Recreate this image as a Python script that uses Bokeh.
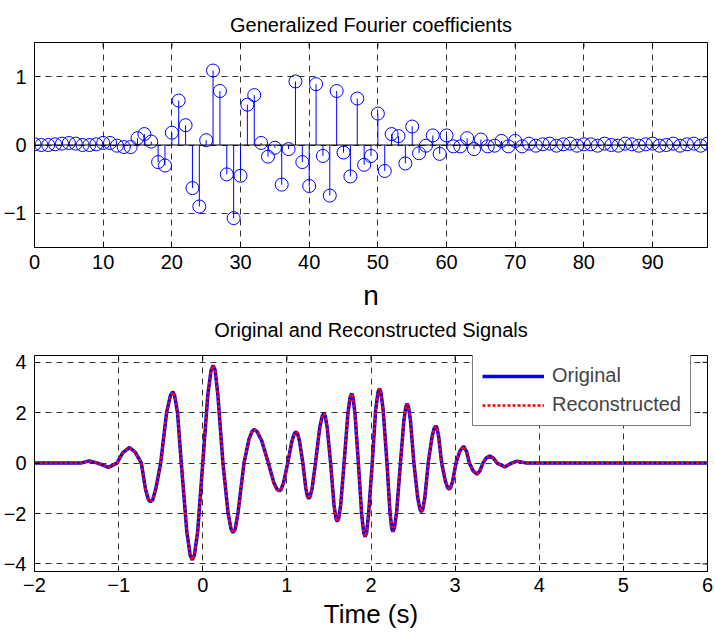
import math
from bokeh.plotting import figure
from bokeh.layouts import column
from bokeh.models import (Range1d, FixedTicker, Legend, LegendItem,
                          ColumnDataSource, Span, Title)
from bokeh.embed import file_html
from bokeh.resources import INLINE

# ---------------- data ----------------
n_index = list(range(99))
coefficients = [
    0.01, 0.00, 0.00, 0.01, 0.02, 0.03, 0.02, 0.00, 0.00, 0.01,
    0.03, 0.03, -0.01, -0.03, -0.03, 0.10, 0.16, 0.05, -0.25, -0.30,
    0.18, 0.65, 0.29, -0.63, -0.90, 0.07, 1.09, 0.79, -0.43, -1.07,
    -0.45, 0.59, 0.73, 0.03, -0.17, -0.04, -0.58, -0.06, 0.93, -0.25,
    -0.60, 0.89, -0.16, -0.74, 0.79, -0.11, -0.46, 0.68, -0.29, -0.16,
    0.46, -0.38, 0.16, 0.13, -0.27, 0.27, -0.12, -0.01, 0.14, -0.13,
    0.14, -0.02, -0.02, 0.10, -0.06, 0.08, -0.02, -0.01, 0.06, -0.02,
    0.06, -0.02, 0.02, -0.01, 0.01, 0.02, -0.01, 0.01, 0.02, -0.01,
    0.01, 0.01, -0.01, 0.02, 0.00, -0.01, 0.02, 0.01, -0.01, 0.01,
    0.02, -0.01, 0.00, 0.02, -0.01, 0.01, 0.02, -0.01, 0.02,
]

time_s = [
    -2.0, -1.6, -1.45, -1.35, -1.25, -1.12, -1.02, -0.95, -0.87, -0.80,
    -0.73, -0.68, -0.645, -0.62, -0.595, -0.56, -0.50, -0.43, -0.384, -0.355, -0.335, -0.30, -0.255,
    -0.19, -0.15, -0.124, -0.099, -0.06, 0.0,
    0.06, 0.099, 0.124, 0.147, 0.18, 0.24,
    0.30, 0.336, 0.36, 0.386, 0.42, 0.49,
    0.55, 0.586, 0.61, 0.644, 0.70, 0.78,
    0.845, 0.884, 0.91, 0.93, 0.96, 1.01,
    1.06, 1.09, 1.11, 1.126, 1.15, 1.19,
    1.225, 1.246, 1.26, 1.276, 1.30, 1.34,
    1.39, 1.42, 1.44, 1.456, 1.48, 1.52,
    1.56, 1.584, 1.60, 1.616, 1.64, 1.68,
    1.725, 1.752, 1.77, 1.786, 1.81, 1.85,
    1.89, 1.914, 1.93, 1.947, 1.97, 2.015,
    2.055, 2.083, 2.10, 2.118, 2.145, 2.19,
    2.225, 2.246, 2.26, 2.278, 2.305, 2.35,
    2.39, 2.414, 2.43, 2.446, 2.47, 2.51,
    2.555, 2.582, 2.60, 2.616, 2.64, 2.68,
    2.725, 2.752, 2.77, 2.784, 2.805, 2.84,
    2.885, 2.912, 2.93, 2.946, 2.97, 3.01,
    3.055, 3.10, 3.135, 3.17, 3.215, 3.26, 3.295, 3.33, 3.37, 3.41,
    3.455, 3.50, 3.59, 3.67, 3.74, 3.85, 6.0,
]
original = [
    0.0, 0.0, 0.0, 0.09, 0.0, -0.17, 0.0, 0.42, 0.62, 0.42,
    0.0, -1.05, -1.45, -1.53, -1.45, -1.05, 0.0, 2.0, 2.69, 2.83, 2.69, 2.0, 0.0,
    -2.7, -3.65, -3.84, -3.65, -2.7, 0.0,
    2.7, 3.69, 3.88, 3.69, 2.7, 0.0,
    -1.95, -2.62, -2.76, -2.62, -1.95, 0.0,
    0.95, 1.26, 1.33, 1.26, 0.9, 0.0,
    -0.78, -1.05, -1.10, -1.05, -0.78, 0.0,
    0.88, 1.18, 1.24, 1.18, 0.88, 0.0,
    -1.0, -1.33, -1.40, -1.33, -1.0, 0.0,
    1.4, 1.87, 1.97, 1.87, 1.4, 0.0,
    -1.65, -2.2, -2.32, -2.2, -1.65, 0.0,
    1.95, 2.62, 2.76, 2.62, 1.95, 0.0,
    -2.07, -2.77, -2.92, -2.77, -2.07, 0.0,
    2.1, 2.81, 2.96, 2.81, 2.1, 0.0,
    -1.93, -2.58, -2.72, -2.58, -1.93, 0.0,
    1.67, 2.24, 2.36, 2.24, 1.67, 0.0,
    -1.37, -1.83, -1.93, -1.83, -1.37, 0.0,
    1.04, 1.40, 1.47, 1.40, 1.04, 0.0,
    -0.73, -0.98, -1.03, -0.98, -0.73, 0.0,
    0.47, 0.67, 0.47, 0.0, -0.31, -0.44, -0.31, 0.0, 0.2, 0.28,
    0.2, 0.0, -0.15, 0.0, 0.08, 0.0, 0.0,
]
reconstructed = list(original)

top_xticks = [0, 10, 20, 30, 40, 50, 60, 70, 80, 90]
top_yticks = [-1, 0, 1]
bot_xticks = [-2, -1, 0, 1, 2, 3, 4, 5, 6]
bot_yticks = [-4, -2, 0, 2, 4]

FONT = "Liberation Sans"
GRID = "#333333"


def make_title(text, standoff):
    return Title(text=text, text_font=FONT, text_font_size="20px",
                 text_font_style="normal", text_color="black", align="center",
                 standoff=standoff)


def style(p, xticks, yticks):
    p.outline_line_color = "black"
    p.outline_line_width = 1
    p.outline_line_alpha = 1
    xa, ya = p.xaxis[0], p.yaxis[0]
    for ax in (xa, ya):
        ax.major_label_text_font = FONT
        ax.major_label_text_font_size = "20px"
        ax.major_label_text_color = "black"
        ax.major_tick_in = 5
        ax.major_tick_out = 0
        ax.minor_tick_line_color = None
        ax.axis_line_color = "black"
        ax.major_tick_line_color = "black"
        ax.axis_label_text_font = FONT
        ax.axis_label_text_font_style = "normal"
        ax.axis_label_text_color = "black"
    xa.ticker = FixedTicker(ticks=xticks)
    ya.ticker = FixedTicker(ticks=yticks)
    ya.major_label_standoff = 8
    for g, t in ((p.xgrid[0], xticks), (p.ygrid[0], yticks)):
        g.ticker = FixedTicker(ticks=t)
        g.grid_line_color = GRID
        g.grid_line_dash = "6 5"
        g.grid_line_width = 1
    # inward ticks on the top and right edges of the box (clipped to the frame)
    xr, yr = p.x_range, p.y_range
    p.scatter(x=xticks, y=[yr.end] * len(xticks), marker="dash", angle=math.pi / 2,
              size=10, line_color="black", line_width=1)
    p.scatter(x=[xr.end] * len(yticks), y=yticks, marker="dash",
              size=10, line_color="black", line_width=1)
    return xa, ya


# ---------------- top: stem plot ----------------
p1 = figure(width=715, height=348, output_backend="svg", toolbar_location=None,
            x_range=Range1d(0, 98), y_range=Range1d(-1.5, 1.5),
            title=make_title("Generalized Fourier coefficients", 14),
            min_border_left=34, min_border_right=8, min_border_top=42, min_border_bottom=101)
xa1, ya1 = style(p1, top_xticks, top_yticks)
xa1.axis_label = "n"
xa1.axis_label_text_font_size = "28px"
xa1.axis_label_standoff = 8
xa1.major_label_standoff = 7

src = ColumnDataSource(data=dict(n=n_index, c=coefficients, z=[0] * len(n_index)))
p1.add_layout(Span(location=0, dimension="width", line_color="black", line_width=1.2))
p1.segment(x0="n", y0="z", x1="n", y1="c", source=src, line_color="#0000ff", line_width=1)
p1.scatter(x="n", y="c", source=src, marker="circle", size=13, fill_color=None,
           line_color="#0000ff", line_width=1)
# title of the lower panel, placed beneath the "n" label
p1.add_layout(make_title("Original and Reconstructed Signals", 6), "below")

# ---------------- bottom: signals ----------------
p2 = figure(width=715, height=287, output_backend="svg", toolbar_location=None,
            x_range=Range1d(-2, 6), y_range=Range1d(-4.3, 4.27),
            min_border_left=34, min_border_right=8, min_border_top=7, min_border_bottom=64)
xa2, ya2 = style(p2, bot_xticks, bot_yticks)
xa2.axis_label = "Time (s)"
xa2.axis_label_text_font_size = "26px"
xa2.axis_label_standoff = 4
xa2.major_label_standoff = 6

r1 = p2.line(time_s, original, line_color="#0000ff", line_width=3.5)
r2 = p2.line(time_s, reconstructed, line_color="#ff0000", line_width=2.5, line_dash="3 2")

legend = Legend(items=[LegendItem(label="Original", renderers=[r1]),
                       LegendItem(label="Reconstructed", renderers=[r2])],
                location=(438, 145))
legend.border_line_color = "black"
legend.border_line_width = 1
legend.background_fill_color = "white"
legend.background_fill_alpha = 1
legend.label_text_font = FONT
legend.label_text_font_size = "20px"
legend.glyph_width = 62
legend.glyph_height = 22
legend.label_height = 22
legend.label_standoff = 8
legend.padding = 9
legend.spacing = 6
legend.margin = 0
p2.add_layout(legend, "center")

layout = column(p1, p2, spacing=0)
open("out.html", "w").write(file_html(layout, INLINE))
